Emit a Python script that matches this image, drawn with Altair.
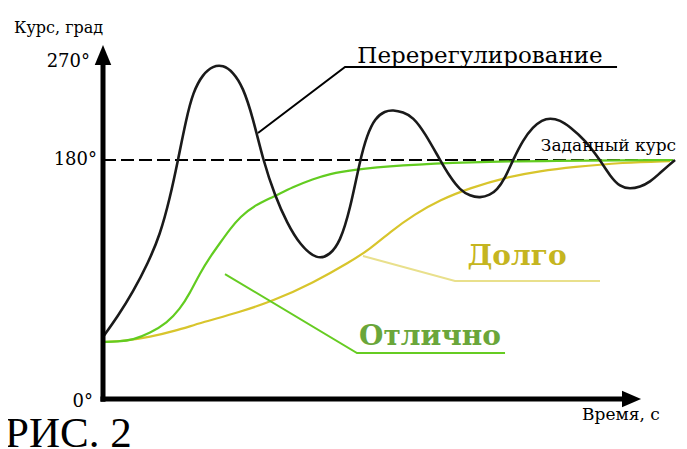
import altair as alt
import pandas as pd

# ---- data (time in s, heading in degrees) ----
black_t = [0, 2.63, 5.26, 7.89, 10.0, 11.75, 13.16, 14.56, 15.79, 17.54, 19.30, 21.05, 22.81,
           24.56, 26.32, 28.07, 30.18, 32.28, 34.56, 37.54, 39.82, 41.58, 43.33, 45.09, 46.32,
           47.72, 49.47, 50.88, 52.63, 54.39, 56.49, 59.12, 60.88, 62.63, 64.39, 66.14, 67.89,
           69.12, 70.53, 71.93, 73.68, 75.44, 77.02, 78.42, 80.18, 81.93, 84.56, 87.19, 88.95,
           90.70, 92.46, 94.21, 95.96, 97.72, 99.12, 100.35]
black_deg = [46.7, 62.5, 80.6, 102.4, 123.5, 151.4, 180, 210.1, 231.2, 244.8, 250.8, 251.5, 246.3,
             235.0, 211.6, 180, 152.9, 132.6, 116.0, 104.7, 108.5, 118.2, 142.3, 180, 198.8,
             211.6, 216.9, 217.7, 216.1, 212.4, 200.3, 180, 167.2, 157.4, 152.9, 151.4, 153.6,
             157.4, 166.4, 180, 195.1, 204.9, 210.1, 211.6, 210.1, 204.9, 195.1, 180, 167.9,
             159.7, 158.2, 159.7, 163.4, 170.2, 175.5, 180]

green_t = [0, 2.63, 5.26, 8.25, 11.23, 13.51, 15.26, 17.02, 18.77, 20.53, 22.28, 24.04, 26.67,
           29.82, 33.33, 36.84, 39.82, 43.33, 52.11, 64.39, 78.42, 100]
green_deg = [42.9, 43.3, 44.4, 49.7, 57.2, 67.8, 79.8, 94.9, 106.9, 117.5, 128.0, 137.1, 146.1,
             152.1, 159.7, 165.7, 169.5, 172.5, 176.2, 178.5, 179.4, 180]

yellow_t = [0, 3.86, 8.25, 12.63, 17.02, 24.04, 29.82, 36.84, 43.33, 46.84, 50.35, 54.74, 59.12,
            64.39, 70.88, 76.67, 82.46, 91.23, 99.47]
yellow_deg = [42.9, 43.7, 46.7, 51.2, 57.2, 65.5, 73.8, 87.4, 103.2, 113.0, 125.8, 139.3, 149.9,
              158.9, 167.2, 171.7, 174.7, 178.1, 179.2]

setpoint_deg = 180
setpoint_t = [0, 99.5]

tick_values = [0, 180, 270]
tick_labels = ["0°", "180°", "270°"]

# ---- scales ----
X_DOM = [-16.667, 101.05]
Y_DOM = [-37.66, 294.47]
xs = alt.Scale(domain=X_DOM, nice=False, zero=False)
ys = alt.Scale(domain=Y_DOM, nice=False, zero=False)


def X(f="t"):
    return alt.X(f"{f}:Q", scale=xs, axis=None)


def Y(f="d"):
    return alt.Y(f"{f}:Q", scale=ys, axis=None)


def curve(ts, ds, color, width):
    df = pd.DataFrame({"t": ts, "d": ds})
    return alt.Chart(df).mark_line(color=color, strokeWidth=width, interpolate="basis").encode(
        x=X(), y=Y())


def seg(points, color, width, dash=None):
    df = pd.DataFrame({"t": [p[0] for p in points], "d": [p[1] for p in points],
                       "o": list(range(len(points)))})
    kw = dict(color=color, strokeWidth=width)
    if dash:
        kw["strokeDash"] = dash
    return alt.Chart(df).mark_line(**kw).encode(x=X(), y=Y(), order="o:Q")


def label(t, d, text, size, color="black", align="left", font="DejaVu Serif", bold=False):
    df = pd.DataFrame({"t": [t], "d": [d], "s": [text]})
    return alt.Chart(df).mark_text(align=align, baseline="alphabetic", font=font,
                                   fontSize=size, color=color,
                                   fontWeight="bold" if bold else "normal").encode(
        x=X(), y=Y(), text="s:N")


# setpoint dashed line
dashed = seg([(setpoint_t[0], setpoint_deg), (setpoint_t[1], setpoint_deg)], "black", 2, [13, 5])

yellow = curve(yellow_t, yellow_deg, "#D8C52C", 2.2)
green = curve(green_t, green_deg, "#62CC20", 2.2)
black = curve(black_t, black_deg, "#1a1a1a", 2.6)

# leader lines
lead_over = seg([(27.19, 200.3), (42.46, 250.0), (90.18, 250.0)], "black", 2)
lead_long = seg([(45.61, 107.7), (61.75, 88.9), (87.19, 88.9)], "#E9E08C", 2)
lead_good = seg([(21.40, 94.1), (44.56, 34.6), (70.53, 34.6)], "#66CC22", 2)

# axes
y_axis = seg([(0, -2.0), (0, 252.5)], "black", 5)
x_axis = seg([(-0.45, 0), (91.3, 0)], "black", 5)
y_head = alt.Chart(pd.DataFrame({"t": [-1.45, 0, 1.45], "d": [251.5, 266.6, 251.5],
                                 "d2": [251.5, 251.5, 251.5]})).mark_area(color="black").encode(
    x=X(), y=Y(), y2="d2:Q")
x_head = alt.Chart(pd.DataFrame({"d": [6.2, 0, -6.2], "t": [91.05, 94.4, 91.05],
                                 "t2": [91.05, 91.05, 91.05]})).mark_area(
    color="black", orient="horizontal").encode(x=X(), x2="t2:Q", y=Y())

texts = [
    label(-15.61, 275.3, "Курс, град", 16),
    label(-2.28, 250.0, tick_labels[2], 18, align="right"),
    label(-1.05, 176.2, tick_labels[1], 18, align="right"),
    label(-1.75, -6.0, tick_labels[0], 18, align="right"),
    label(84.04, -16.0, "Время, с", 17),
    label(-17.19, -36.2, "РИС. 2", 43, font="Liberation Serif"),
    label(66.14, 253.0, "Перерегулирование", 23, align="center"),
    label(88.68, 186.4, "Заданный курс", 17, align="center"),
    label(72.63, 100.9, "Долго", 28, color="#C5B520", align="center", bold=True),
    label(57.37, 40.7, "Отлично", 28, color="#6AA63A", align="center", bold=True),
]

chart = alt.layer(dashed, yellow, green, black, lead_over, lead_long, lead_good,
                  y_axis, x_axis, y_head, x_head, *texts).properties(
    width=671, height=441, padding=0, background="white",
    autosize=alt.AutoSizeParams(type="none"),
).configure_view(stroke=None)

chart.save("out.html", embed_options={"renderer": "svg", "actions": False})
